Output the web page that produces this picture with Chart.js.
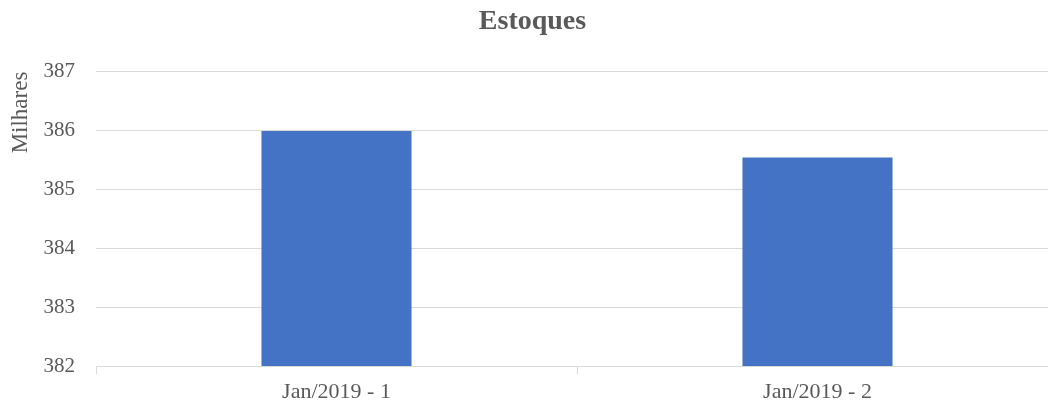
<!DOCTYPE html>
<html>
<head>
<meta charset="utf-8">
<script src="https://cdn.jsdelivr.net/npm/chart.js@4/dist/chart.umd.min.js"></script>
<style>
  html, body { margin: 0; padding: 0; background: #fff; overflow: hidden; }
  #wrap { width: 1048px; height: 410px; overflow: hidden; position: relative; }
  #c { position: absolute; left: 0; top: 0; }
</style>
</head>
<body>
<div id="wrap"><canvas id="c" width="1058" height="410"></canvas></div>
<script>
const categories = ["Jan/2019 - 1", "Jan/2019 - 2"];
const estoques = [385.99, 385.54];
const yMin = 382;
const yMax = 387;
const yStep = 1;

const FONT = "'Liberation Serif', 'DejaVu Serif', serif";
const TEXT = "#595959";
const GRID = "#d9d9d9";

new Chart(document.getElementById('c'), {
  type: 'bar',
  data: {
    labels: categories,
    datasets: [{
      label: 'Estoques',
      data: estoques,
      backgroundColor: '#4472C4',
      borderWidth: 0,
      barPercentage: 0.312,
      categoryPercentage: 1.0
    }]
  },
  options: {
    responsive: false,
    animation: false,
    layout: { padding: { left: 7, right: 0, top: 5, bottom: 0 } },
    plugins: {
      legend: { display: false },
      tooltip: { enabled: false },
      title: {
        display: true,
        text: 'Estoques',
        color: TEXT,
        font: { family: FONT, size: 28, weight: 'bold' },
        padding: { top: 0, bottom: 33 }
      }
    },
    scales: {
      x: {
        offset: true,
        grid: {
          display: true,
          offset: true,
          drawOnChartArea: false,
          drawTicks: true,
          tickLength: 8,
          color: GRID
        },
        border: { display: true, color: GRID, width: 1 },
        ticks: {
          color: TEXT,
          font: { family: FONT, size: 22, lineHeight: 1.0 },
          padding: 7
        }
      },
      y: {
        min: yMin,
        max: yMax,
        afterFit: (axis) => { axis.width = 89; },
        ticks: {
          stepSize: yStep,
          color: TEXT,
          font: { family: FONT, size: 21 },
          padding: 21
        },
        grid: {
          color: GRID,
          drawTicks: false
        },
        border: { display: false },
        title: {
          display: true,
          text: 'Milhares',
          align: 'end',
          color: TEXT,
          font: { family: FONT, size: 23 },
          padding: { top: 0, bottom: 0 }
        }
      }
    }
  }
});
</script>
</body>
</html>
